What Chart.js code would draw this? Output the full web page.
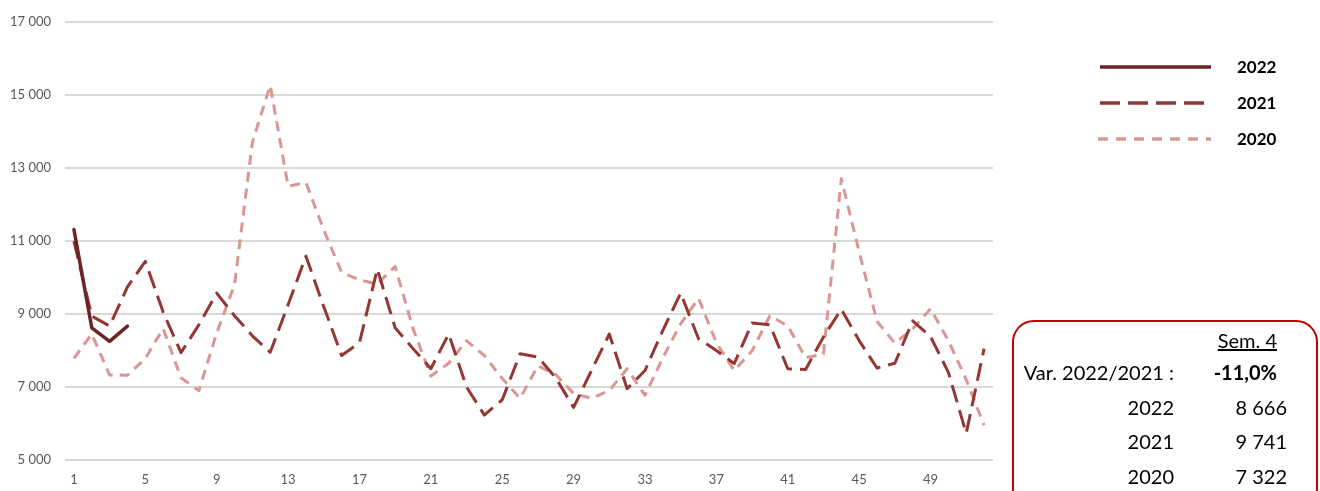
<!doctype html>
<html lang="fr">
  <head>
    <meta charset="utf-8">
    <title>Semaines 2022 / 2021 / 2020</title>
    <style>
      * {
        margin: 0;
        padding: 0;
      }
      body {
        width: 1320px;
        height: 491px;
        position: relative;
        overflow: hidden;
        background: white;
        font-family: Lato, "Liberation Sans", sans-serif;
      }
      .chartBox {
        position: absolute;
        left: 0;
        top: 0;
        width: 1000px;
        height: 491px;
      }
      .legendLines {
        position: absolute;
        left: 0;
        top: 0;
      }
      .legendText {
        position: absolute;
        left: 1237px;
        font-size: 17px;
        font-weight: bold;
        line-height: 20px;
        color: black;
      }
      .recap {
        position: absolute;
        left: 1012px;
        top: 320px;
        width: 302px;
        height: 200px;
        border: 2px solid #C00000;
        border-radius: 22px;
      }
      .recap div {
        position: absolute;
        font-size: 20px;
        line-height: 24px;
        color: black;
        text-align: right;
        white-space: nowrap;
      }
      .left { left: 0; width: 160px; }
      .mid { left: 130px; width: 133px; }
      .right { left: 150px; width: 123px; }
    </style>
  </head>
  <body>
    <div class="chartBox">
      <canvas id="myChart"></canvas>
    </div>

    <svg class="legendLines" width="1320" height="491">
      <line x1="1100" y1="67" x2="1211" y2="67" stroke="#6B2427" stroke-width="3.5"></line>
      <line x1="1100" y1="103" x2="1211" y2="103" stroke="#943634" stroke-width="3.5" stroke-dasharray="20 8"></line>
      <line x1="1098" y1="139" x2="1211" y2="139" stroke="#D99694" stroke-width="3.5" stroke-dasharray="10 8"></line>
    </svg>
    <div class="legendText" style="top:57px">2022</div>
    <div class="legendText" style="top:93px">2021</div>
    <div class="legendText" style="top:129px">2020</div>

    <div class="recap">
      <div class="mid" style="top:6px"><u>Sem. 4</u></div>
      <div class="left" style="top:38px">Var. 2022/2021 :</div>
      <div class="mid" style="top:38px"><b>-11,0%</b></div>
      <div class="left" style="top:73px">2022</div>
      <div class="right" style="top:73px">8 666</div>
      <div class="left" style="top:107px">2021</div>
      <div class="right" style="top:107px">9 741</div>
      <div class="left" style="top:142px">2020</div>
      <div class="right" style="top:142px">7 322</div>
    </div>

    <script src="https://cdn.jsdelivr.net/npm/chart.js"></script>
    <script>
    // data
    const weeks = [1, 2, 3, 4, 5, 6, 7, 8, 9, 10, 11, 12, 13, 14, 15, 16, 17, 18, 19, 20,
      21, 22, 23, 24, 25, 26, 27, 28, 29, 30, 31, 32, 33, 34, 35, 36, 37, 38, 39, 40,
      41, 42, 43, 44, 45, 46, 47, 48, 49, 50, 51, 52];

    const values2022 = [11313, 8620, 8250, 8666];

    const values2021 = [10990, 8940, 8670, 9741, 10440, 9050, 7940, 8700, 9570, 8950,
      8400, 7950, 9250, 10580, 9200, 7860, 8210, 10230, 8620, 8050,
      7500, 8450, 7000, 6230, 6650, 7910, 7820, 7250, 6440, 7450,
      8450, 6950, 7450, 8550, 9570, 8320, 8000, 7640, 8750, 8700,
      7500, 7480, 8370, 9130, 8270, 7520, 7650, 8810, 8380, 7400,
      5730, 8050];

    const values2020 = [7780, 8450, 7330, 7322, 7780, 8600, 7250, 6900, 8480, 9800,
      13700, 15260, 12500, 12600, 11300, 10140, 9930, 9820, 10300, 8600,
      7300, 7650, 8270, 7860, 7230, 6690, 7580, 7340, 6820, 6690,
      6900, 7500, 6770, 7800, 8730, 9430, 8210, 7450, 7990, 8950,
      8670, 7800, 7900, 12700, 10700, 8800, 8200, 8590, 9140, 8270,
      7200, 5950];

    const yTicks = [5000, 7000, 9000, 11000, 13000, 15000, 17000];

    const tickFont = { family: 'Lato, "Liberation Sans", sans-serif', size: 13 };

    function formatThousands(v) {
      return String(v).replace(/\B(?=(\d{3})+(?!\d))/g, ' ');
    }

    // setup
    const data = {
      labels: weeks,
      datasets: [{
        label: '2022',
        data: values2022,
        borderColor: '#6B2427',
        borderWidth: 3.5,
        borderCapStyle: 'round',
        borderJoinStyle: 'round',
        pointRadius: 0,
        tension: 0
      }, {
        label: '2021',
        data: values2021,
        borderColor: '#943634',
        borderWidth: 3,
        borderDash: [18, 8],
        borderJoinStyle: 'round',
        pointRadius: 0,
        tension: 0
      }, {
        label: '2020',
        data: values2020,
        borderColor: '#D99694',
        borderWidth: 3,
        borderDash: [10, 7],
        borderJoinStyle: 'round',
        pointRadius: 0,
        tension: 0
      }]
    };

    // config
    const config = {
      type: 'line',
      data,
      options: {
        responsive: true,
        maintainAspectRatio: false,
        animation: false,
        layout: {
          padding: { top: 19, right: 7, left: 0, bottom: 0 }
        },
        plugins: {
          legend: { display: false },
          tooltip: { enabled: false }
        },
        scales: {
          x: {
            offset: true,
            grid: { display: false, drawTicks: false },
            border: { display: false },
            ticks: {
              autoSkip: false,
              maxRotation: 0,
              padding: 12,
              color: '#595959',
              font: tickFont,
              callback: function (val, i) {
                return i % 4 === 0 ? this.getLabelForValue(val) : '';
              }
            },
            afterFit: scale => { scale.height = 31; }
          },
          y: {
            min: yTicks[0],
            max: yTicks[yTicks.length - 1],
            afterBuildTicks: scale => {
              scale.ticks = yTicks.map(v => ({ value: v }));
            },
            grid: { color: '#D9D9D9', lineWidth: 2, drawTicks: false },
            border: { display: false },
            ticks: {
              padding: 14,
              color: '#595959',
              font: tickFont,
              callback: v => formatThousands(v)
            },
            afterFit: scale => { scale.width = 65; }
          }
        }
      }
    };

    // render init block
    const myChart = new Chart(
      document.getElementById('myChart'),
      config
    );
    </script>
  </body>
</html>
